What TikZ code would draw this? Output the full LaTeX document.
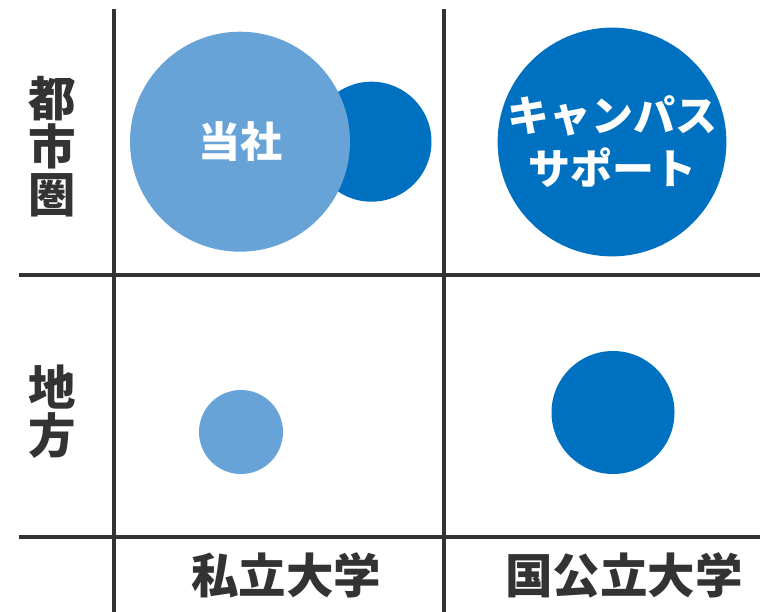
\documentclass[tikz,border=0pt]{standalone}
\usepackage{fontspec}
\setmainfont{Noto Sans CJK JP}
\definecolor{lblue}{HTML}{68A3D8}
\definecolor{dblue}{HTML}{0070C0}
\definecolor{gridc}{HTML}{333333}
\begin{document}
\begin{tikzpicture}[x=1pt,y=-1pt,
  gridline/.style={draw=gridc,line width=3.3pt},
  bubble/.style={circle,inner sep=0pt,draw=none},
  intext/.style={text=white,font=\bfseries\fontsize{42}{53}\selectfont,align=center},
  axlabel/.style={text=gridc,font=\bfseries\fontsize{47.5}{48}\selectfont,align=center}]
\useasboundingbox (0,0) rectangle (760,612);
% grid
\coordinate (v1t) at (114,9);  \coordinate (v1b) at (114,612);
\coordinate (v2t) at (444,9);  \coordinate (v2b) at (444,612);
\coordinate (h1l) at (19,275); \coordinate (h1r) at (760,275);
\coordinate (h2l) at (19,537); \coordinate (h2r) at (760,537);
\draw[gridline] (v1t) -- (v1b);
\draw[gridline] (v2t) -- (v2b);
\draw[gridline] (h1l) -- (h1r);
\draw[gridline] (h2l) -- (h2r);
% bubbles
\node[bubble,fill=dblue,minimum size=120pt] (c2) at (371.5,141.7) {};
\node[bubble,fill=lblue,minimum size=220pt,intext] (tousha) at (240,141.7) {当社};
\node[bubble,fill=dblue,minimum size=221pt,intext] (campus) at (612,142) {キャンパス\\サポート};
\node[bubble,fill=lblue,minimum size=84pt] (c4) at (241,432) {};
\node[bubble,fill=dblue,minimum size=123pt] (c5) at (613,412.5) {};
% labels
\node[axlabel] (toshi) at (52,147) {都\\市\\圏};
\node[axlabel] (chiho) at (52,412) {地\\方};
\node[axlabel] (shiritsu) at (286,575) {私立大学};
\node[axlabel] (kokkou) at (624,575) {国公立大学};
\end{tikzpicture}
\end{document}
